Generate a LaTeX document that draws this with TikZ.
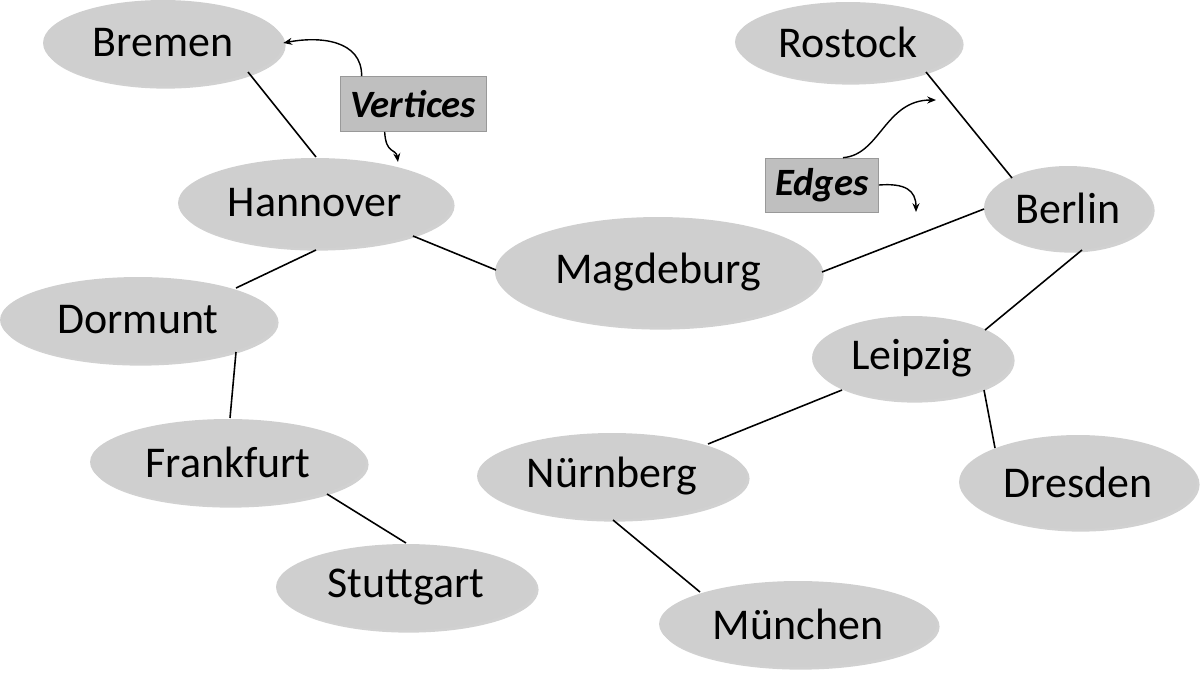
\documentclass[tikz,border=0pt]{standalone}
\usepackage{fontspec}
\setmainfont{Carlito}
\usetikzlibrary{shapes.geometric,shadows,arrows.meta}
\begin{document}
\begin{tikzpicture}[x=0.02cm,y=-0.02cm,
  city/.style={ellipse,fill=black!19,draw=none,drop shadow={shadow xshift=1.5pt,shadow yshift=-1.5pt,fill=black!30,opacity=.6},font=\fontsize{25}{28}\selectfont,inner sep=0pt},
  tag/.style={rectangle,fill=black!25,draw=black!40,font=\fontsize{22}{26}\selectfont\bfseries\itshape,inner sep=0pt},
  link/.style={black,line width=0.9pt},
  pointer/.style={black,line width=0.8pt,-{Stealth[length=5pt,width=4pt]}}]
\useasboundingbox (0,0) rectangle (1200,680);
\newcommand\cityat[5]{\node[city,minimum width=#3*0.04cm,minimum height=#4*0.04cm] (#5) at (#1,#2) {#5};}
\cityat{163}{43}{120}{43}{Bremen}
\cityat{848}{42}{113}{40}{Rostock}
\cityat{315}{203}{137}{45}{Hannover}
\cityat{658}{272}{163}{55}{Magdeburg}
\cityat{1068}{208}{84}{42}{Berlin}
\cityat{138}{320}{138}{43}{Dormunt}
\cityat{912}{358}{100}{42}{Leipzig}
\cityat{228}{462}{138}{43}{Frankfurt}
\cityat{612}{476}{135}{43}{Nürnberg}
\cityat{1078}{482}{119}{47}{Dresden}
\cityat{406}{587}{130}{43}{Stuttgart}
\cityat{798}{624}{139}{43}{München}
\node[tag,minimum width=146*0.02cm,minimum height=55*0.02cm] (V) at (413,104) {Vertices};
\node[tag,minimum width=113*0.02cm,minimum height=54*0.02cm] (E) at (822,185) {Edges};
\coordinate (e1) at (936,100);
\coordinate (e2) at (916,212);
\coordinate (v2) at (398,162);
\draw[link] (248,72) -- (316,157);
\draw[link] (926,72) -- (1012,178);
\draw[link] (413,236) -- (496,270);
\draw[link] (822,272) -- (984,209);
\draw[link] (316,250) -- (236,288);
\draw[link] (1082,250) -- (985,330);
\draw[link] (236,352) -- (230,418);
\draw[link] (327,494) -- (406,543);
\draw[link] (842,390) -- (708,444);
\draw[link] (984,390) -- (995,448);
\draw[link] (613,520) -- (700,592);
\draw[pointer] (V.north west) ++(22,0) .. controls (362,40) and (320,36) .. (Bremen.east);
\draw[pointer] (V.south west) ++(45,0) .. controls (386,155) and (396,148) .. (v2);
\draw[pointer] (E.north) ++(21,0) .. controls (880,155) and (885,100) .. (e1);
\draw[pointer] (E.east) .. controls (905,183) and (916,190) .. (e2);
\end{tikzpicture}
\end{document}
